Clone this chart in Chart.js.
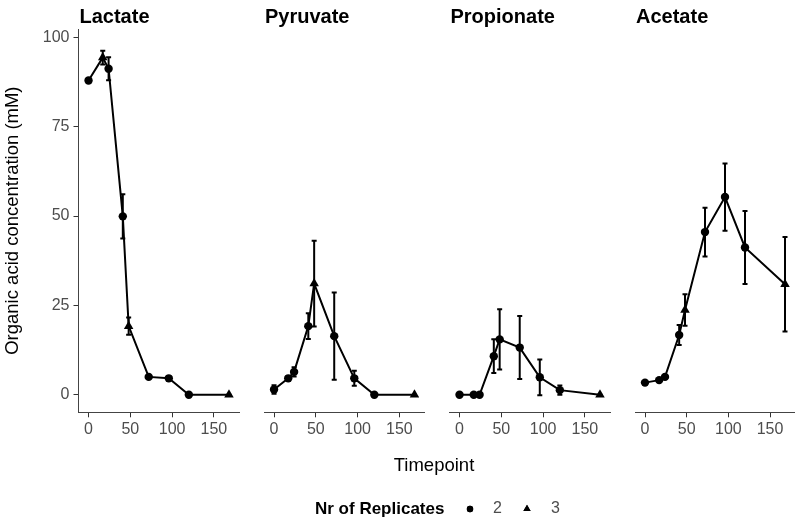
<!DOCTYPE html>
<html>
<head>
<meta charset="utf-8">
<script src="https://cdn.jsdelivr.net/npm/chart.js@4.4.1/dist/chart.umd.min.js"></script>
<style>
  html, body { margin: 0; padding: 0; background: #fff; }
  #wrap { position: relative; width: 795px; height: 521px; }
  #wrap canvas { position: absolute; left: 0; top: 0; }
</style>
</head>
<body>
<div id="wrap">
  <canvas id="c0" width="795" height="521"></canvas>
  <canvas id="c1" width="795" height="521"></canvas>
  <canvas id="c2" width="795" height="521"></canvas>
  <canvas id="c3" width="795" height="521"></canvas>
</div>
<script>
// ---- data ----
const timepoints = [0, 17, 24, 41, 48, 72, 96, 120, 168];

const lactateMean = [87.9, 94.3, 91.2, 49.9, 19.2, 5.0, 4.6, 0, 0];
const lactateErr  = [0.7, 1.9, 3.2, 6.2, 2.4, 0.3, 0.3, 0, 0];
const lactateReps = [2, 3, 2, 2, 3, 2, 2, 2, 3];

const pyruvateMean = [1.5, 4.6, 6.4, 19.2, 31.1, 16.4, 4.6, 0, 0];
const pyruvateErr  = [1.2, 0.5, 1.3, 3.6, 12.0, 12.2, 2.1, 0, 0];
const pyruvateReps = [2, 2, 2, 2, 3, 2, 2, 2, 3];

const propionateMean = [0, 0, 0, 10.8, 15.5, 13.2, 4.9, 1.3, 0];
const propionateErr  = [0, 0, 0, 4.7, 8.4, 8.8, 5.0, 1.3, 0];
const propionateReps = [2, 2, 2, 2, 2, 2, 2, 2, 3];

const acetateMean = [3.4, 4.1, 5.0, 16.7, 23.7, 45.5, 55.3, 41.2, 30.9];
const acetateErr  = [0.3, 0.3, 0.3, 2.8, 4.4, 6.8, 9.4, 10.2, 13.2];
const acetateReps = [2, 2, 2, 2, 3, 2, 2, 2, 3];

const panelNames = ['Lactate', 'Pyruvate', 'Propionate', 'Acetate'];
const xTicks = [0, 50, 100, 150];
const yTicks = [0, 25, 50, 75, 100];
const replicateLabels = ['2', '3'];

// ---- layout ----
const FONT = "'Liberation Sans', Arial, sans-serif";
const PANEL_LEFT = [78.5, 264, 449.5, 635];
const PANEL_W = 160.5;
const AREA_TOP = 29;
const AREA_BOTTOM = 412.3;
const CAP = 6; // error bar width, in hours

const panels = [
  [lactateMean, lactateErr, lactateReps],
  [pyruvateMean, pyruvateErr, pyruvateReps],
  [propionateMean, propionateErr, propionateReps],
  [acetateMean, acetateErr, acetateReps],
];

const shapeFor = r => (r === 3 ? 'triangle' : 'circle');
const sizeFor = r => (r === 3 ? 5.5 : 4.2);

// error bars drawn with the chart's own scales
const errorBars = {
  id: 'errorBars',
  afterDatasetsDraw(chart) {
    const { ctx, scales: { x, y } } = chart;
    ctx.save();
    ctx.strokeStyle = '#000';
    ctx.lineWidth = 2;
    for (const p of chart.data.datasets[0].data) {
      const px = x.getPixelForValue(p.x);
      const top = y.getPixelForValue(p.y + p.err);
      const bot = y.getPixelForValue(p.y - p.err);
      const hw = x.getPixelForValue(p.x + CAP / 2) - px;
      ctx.beginPath();
      ctx.moveTo(px, top); ctx.lineTo(px, bot);
      ctx.moveTo(px - hw, top); ctx.lineTo(px + hw, top);
      ctx.moveTo(px - hw, bot); ctx.lineTo(px + hw, bot);
      ctx.stroke();
    }
    ctx.restore();
  }
};

// facet strip title, left aligned on the panel
const panelTitle = {
  id: 'panelTitle',
  afterDraw(chart, args, opts) {
    const { ctx, chartArea } = chart;
    ctx.save();
    ctx.font = 'bold 20px ' + FONT;
    ctx.fillStyle = '#000';
    ctx.textBaseline = 'alphabetic';
    ctx.fillText(opts.text, chartArea.left + 1, 23);
    ctx.restore();
  }
};

// shared x title + shape legend (drawn once, on the first canvas)
const pageDecor = {
  id: 'pageDecor',
  afterDraw(chart) {
    const { ctx } = chart;
    ctx.save();
    ctx.fillStyle = '#000';
    ctx.textBaseline = 'middle';
    ctx.textAlign = 'center';
    ctx.font = '18.5px ' + FONT;
    ctx.fillText('Timepoint', 434, 466);

    ctx.textAlign = 'left';
    ctx.font = 'bold 17px ' + FONT;
    ctx.fillText('Nr of Replicates', 315, 509);
    ctx.font = '16px ' + FONT;
    ctx.fillStyle = '#000';
    ctx.strokeStyle = '#000';
    Chart.helpers.drawPoint(ctx, { pointStyle: 'circle', radius: 3.2, rotation: 0, borderWidth: 0 }, 470, 509);
    ctx.fill();
    Chart.helpers.drawPoint(ctx, { pointStyle: 'triangle', radius: 4.2, rotation: 0, borderWidth: 0 }, 527, 509);
    ctx.fill();
    ctx.fillStyle = '#4d4d4d';
    ctx.textAlign = 'center';
    ctx.fillText(replicateLabels[0], 497.5, 509);
    ctx.fillText(replicateLabels[1], 555.5, 509);
    ctx.restore();
  }
};

function makePanel(i) {
  const [mean, err, reps] = panels[i];
  const first = i === 0;
  const right = Math.max(0, 795 - (PANEL_LEFT[i] + PANEL_W));

  return new Chart(document.getElementById('c' + i), {
    type: 'line',
    data: {
      datasets: [{
        data: timepoints.map((t, k) => ({ x: t, y: mean[k], err: err[k] })),
        borderColor: '#000',
        backgroundColor: '#000',
        borderWidth: 2,
        tension: 0,
        pointStyle: reps.map(shapeFor),
        pointRadius: reps.map(sizeFor),
        pointBorderWidth: 0,
        pointBackgroundColor: '#000',
      }],
    },
    options: {
      responsive: false,
      animation: false,
      events: [],
      layout: {
        autoPadding: false,
        padding: { left: first ? 0 : PANEL_LEFT[i], right, top: AREA_TOP, bottom: 0 },
      },
      scales: {
        x: {
          type: 'linear',
          min: -12,
          max: 180,
          afterBuildTicks: s => { s.ticks = xTicks.map(v => ({ value: v })); },
          afterFit: s => { s.height = 521 - AREA_BOTTOM; },
          grid: { display: true, drawOnChartArea: false, drawTicks: true, tickLength: 5, color: '#333' },
          border: { display: true, color: '#444', width: 1 },
          ticks: { color: '#4d4d4d', font: { family: FONT, size: 16 }, padding: 3, maxRotation: 0, autoSkip: false },
        },
        y: {
          type: 'linear',
          display: first,
          min: -4.9,
          max: 102.3,
          afterBuildTicks: s => { s.ticks = yTicks.map(v => ({ value: v })); },
          afterFit: s => { s.width = first ? PANEL_LEFT[0] : 0; },
          grid: { display: true, drawOnChartArea: false, drawTicks: true, tickLength: 5, color: '#333' },
          border: { display: true, color: '#444', width: 1 },
          ticks: { color: '#4d4d4d', font: { family: FONT, size: 16 }, padding: 4 },
          title: {
            display: true,
            text: 'Organic acid concentration (mM)',
            color: '#000',
            font: { family: FONT, size: 18.5 },
            padding: { top: 2, bottom: 0 },
          },
        },
      },
      plugins: {
        legend: { display: false },
        tooltip: { enabled: false },
        panelTitle: { text: panelNames[i] },
      },
    },
    plugins: first ? [errorBars, panelTitle, pageDecor] : [errorBars, panelTitle],
  });
}

panelNames.forEach((_, i) => makePanel(i));
</script>
</body>
</html>
